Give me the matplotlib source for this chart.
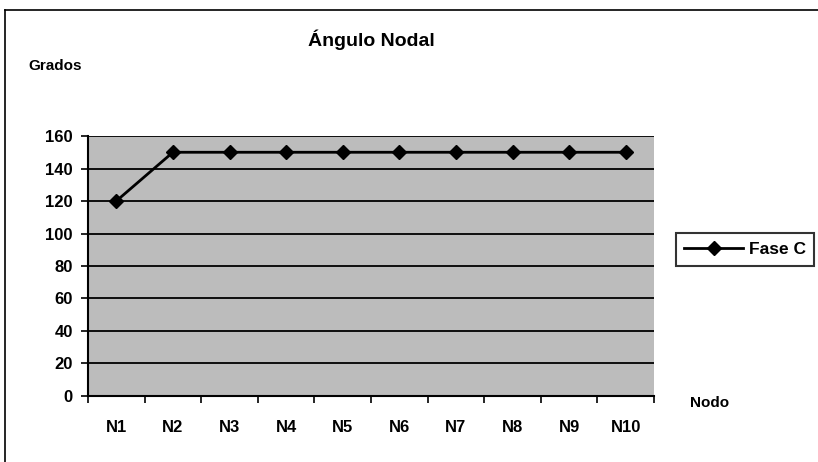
import matplotlib.pyplot as plt
from matplotlib.lines import Line2D

plt.rcParams['font.family'] = ['Liberation Sans', 'DejaVu Sans']
plt.rcParams['font.weight'] = 'bold'

nodos = ['N1', 'N2', 'N3', 'N4', 'N5', 'N6', 'N7', 'N8', 'N9', 'N10']
fase_c = [120, 150, 150, 150, 150, 150, 150, 150, 150, 150]
y_ticks = [0, 20, 40, 60, 80, 100, 120, 140, 160]

fig = plt.figure(figsize=(8.18, 4.62), dpi=100)
ax = fig.add_axes([0.1076, 0.1429, 0.692, 0.5627])
ax.set_facecolor('#bcbcbc')

x = list(range(len(nodos)))
ax.plot(x, fase_c, color='black', lw=2, marker='D', markersize=7, label='Fase C', zorder=3)

ax.set_xlim(-0.5, len(nodos) - 0.5)
ax.set_ylim(0, 160)
ax.set_yticks(y_ticks)
ax.yaxis.grid(True, color='black', lw=1.3)
ax.set_axisbelow(True)

# ticks between categories, labels centered on them
ax.set_xticks([i - 0.5 for i in range(len(nodos) + 1)])
ax.set_xticklabels([])
ax.set_xticks(x, minor=True)
ax.set_xticklabels(nodos, minor=True, fontsize=12)
ax.tick_params(axis='x', which='minor', length=0, pad=17)
ax.tick_params(axis='x', which='major', length=5, width=1.2, direction='out')
ax.tick_params(axis='y', length=5, width=1.2, labelsize=12, pad=6)

for side in ['top', 'right']:
    ax.spines[side].set_visible(False)
ax.spines['left'].set_linewidth(1.5)
ax.spines['bottom'].set_linewidth(1.5)

fig.text(0.454, 0.913, 'Ángulo Nodal', ha='center', va='center', fontsize=14)
fig.text(0.035, 0.857, 'Grados', ha='left', va='center', fontsize=11)
fig.text(0.843, 0.128, 'Nodo', ha='left', va='center', fontsize=11)

leg = fig.legend(loc='center left', bbox_to_anchor=(0.826, 0.46), fontsize=12.5,
                 frameon=True, fancybox=False, edgecolor='black', handlelength=3.4,
                 handletextpad=0.3, borderpad=0.5, borderaxespad=0)
leg.get_frame().set_linewidth(1.5)

# chart border (right side runs off the image)
fig.add_artist(Line2D([0.006, 0.006], [0.0, 0.978], color='black', lw=1.2))
fig.add_artist(Line2D([0.006, 1.0], [0.978, 0.978], color='black', lw=1.2))

fig.savefig('out.png', dpi=100)
